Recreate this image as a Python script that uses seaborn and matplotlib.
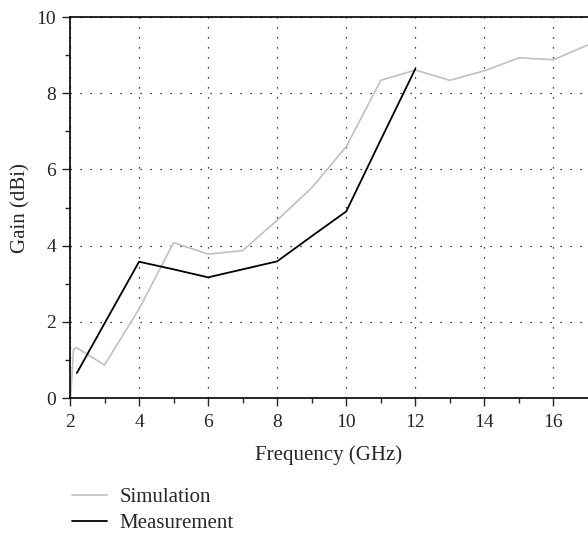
import matplotlib.pyplot as plt
import pandas as pd
import seaborn as sns

sim_freq = [2.02, 2.1, 2.18, 3, 4, 5, 6, 7, 8, 9, 10, 11, 12, 13, 14, 15, 16, 17]
sim_gain = [0.0, 1.27, 1.33, 0.87, 2.34, 4.08, 3.78, 3.87, 4.67, 5.52, 6.6,
            8.34, 8.61, 8.34, 8.59, 8.93, 8.88, 9.27]
meas_freq = [2.2, 3, 4, 5, 6, 7, 8, 9, 10, 11, 12]
meas_gain = [0.66, 1.96, 3.58, 3.38, 3.17, 3.38, 3.59, 4.25, 4.9, 6.78, 8.64]

sim = pd.DataFrame({'freq': sim_freq, 'gain': sim_gain})
meas = pd.DataFrame({'freq': meas_freq, 'gain': meas_gain})

sns.set_style('ticks')
plt.rcParams['font.family'] = ['Liberation Serif', 'DejaVu Serif']

fig = plt.figure(figsize=(5.88, 5.33), dpi=100)
ax = fig.add_axes([0.119, 0.253, 0.881, 0.715])

sns.lineplot(data=sim, x='freq', y='gain', sort=False, color='#c0c0c0',
             linewidth=1.2, label='Simulation', ax=ax)
sns.lineplot(data=meas, x='freq', y='gain', sort=False, color='black',
             linewidth=1.3, label='Measurement', ax=ax)

ax.set_xlim(2, 17)
ax.set_ylim(0, 10)
ax.set_xticks(range(2, 17, 2))
ax.set_xticks(range(3, 17, 2), minor=True)
ax.set_yticks(range(0, 11, 2))
ax.set_yticks(range(1, 10, 2), minor=True)
ax.tick_params(which='major', direction='out', length=6, width=1,
               labelsize=14, pad=4)
ax.tick_params(axis='x', which='major', pad=5.5)
ax.tick_params(which='minor', direction='out', length=3.5, width=1)
ax.grid(True, which='major', color='black', linestyle=(0, (1, 7)), linewidth=0.9)
for side in ['left', 'bottom', 'top']:
    ax.spines[side].set_linewidth(1.2)
    ax.spines[side].set_color('black')
ax.spines['right'].set_visible(False)

ax.set_xlabel('Frequency (GHz)', fontsize=15, labelpad=10)
ax.set_ylabel('Gain (dBi)', fontsize=15, labelpad=4)

handles, labels = ax.get_legend_handles_labels()
ax.get_legend().remove()
fig.legend(handles, labels, loc='upper left', bbox_to_anchor=(0.09, 0.121),
           frameon=False, fontsize=15, handlelength=1.7, handletextpad=0.6,
           labelspacing=0.32)

fig.savefig('out.png', dpi=100)
